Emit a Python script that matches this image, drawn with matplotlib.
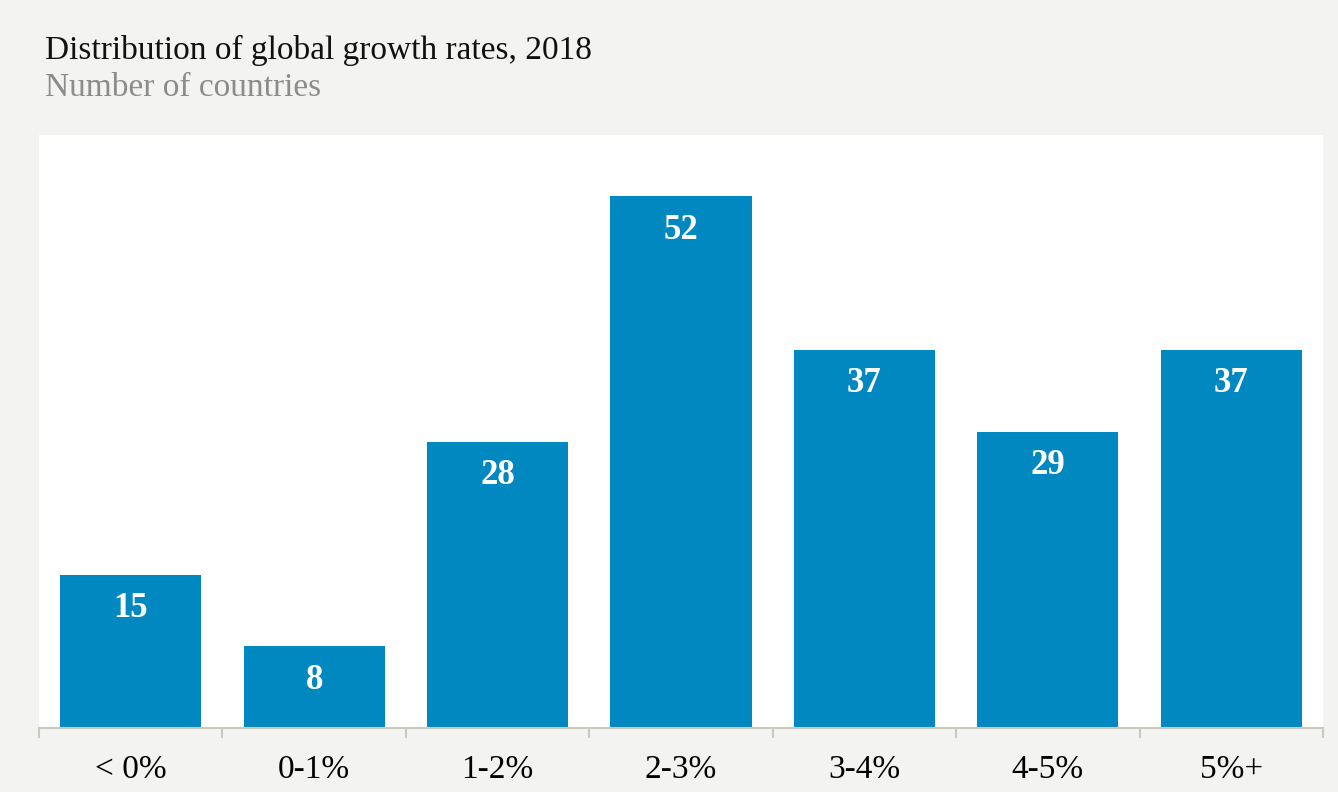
import matplotlib
matplotlib.use('Agg')
import matplotlib.pyplot as plt

# Data
categories = ['< 0%', '0-1%', '1-2%', '2-3%', '3-4%', '4-5%', '5%+']
counts = [15, 8, 28, 52, 37, 29, 37]

BG = '#f3f3f1'
BAR = '#0288c0'
AXIS = '#c9c9bd'
plt.rcParams['font.family'] = ['Liberation Serif', 'DejaVu Serif']

W, H = 1338, 792
fig = plt.figure(figsize=(W / 100, H / 100), dpi=100, facecolor=BG)

# white plot panel
left, right, top, bottom = 39, 1323, 135, 728
ax = fig.add_axes([left / W, 1 - bottom / H, (right - left) / W, (bottom - top) / H])
ax.set_facecolor('white')

x = range(len(categories))
ax.bar(x, counts, width=0.77, color=BAR, zorder=2)
for xi, v in zip(x, counts):
    ax.annotate(str(v), (xi, v), xytext=(0, -24.5), textcoords='offset points',
                ha='center', va='center', color='white', fontsize=25, fontweight='bold')

ax.set_xlim(-0.5, len(categories) - 0.5)
ax.set_ylim(0, 58)
ax.set_yticks([])
for s in ['top', 'right', 'left']:
    ax.spines[s].set_visible(False)
ax.spines['bottom'].set_color(AXIS)
ax.spines['bottom'].set_linewidth(1.5)

# category boundary ticks
ax.set_xticks([i - 0.5 for i in range(len(categories) + 1)], minor=False)
ax.set_xticklabels([])
ax.tick_params(axis='x', which='major', length=7, width=1.5, color=AXIS)
ax.set_xticks(list(x), minor=True)
ax.set_xticklabels(categories, minor=True, fontsize=24)
ax.tick_params(axis='x', which='minor', length=0, pad=19)

fig.text(45 / W, 1 - 50 / H, 'Distribution of global growth rates, 2018',
         fontsize=24, color='#111111', va='center', ha='left')
fig.text(45 / W, 1 - 88 / H, 'Number of countries',
         fontsize=24, color='#8c8c8c', va='center', ha='left')

fig.savefig('out.png', dpi=100, facecolor=BG)
